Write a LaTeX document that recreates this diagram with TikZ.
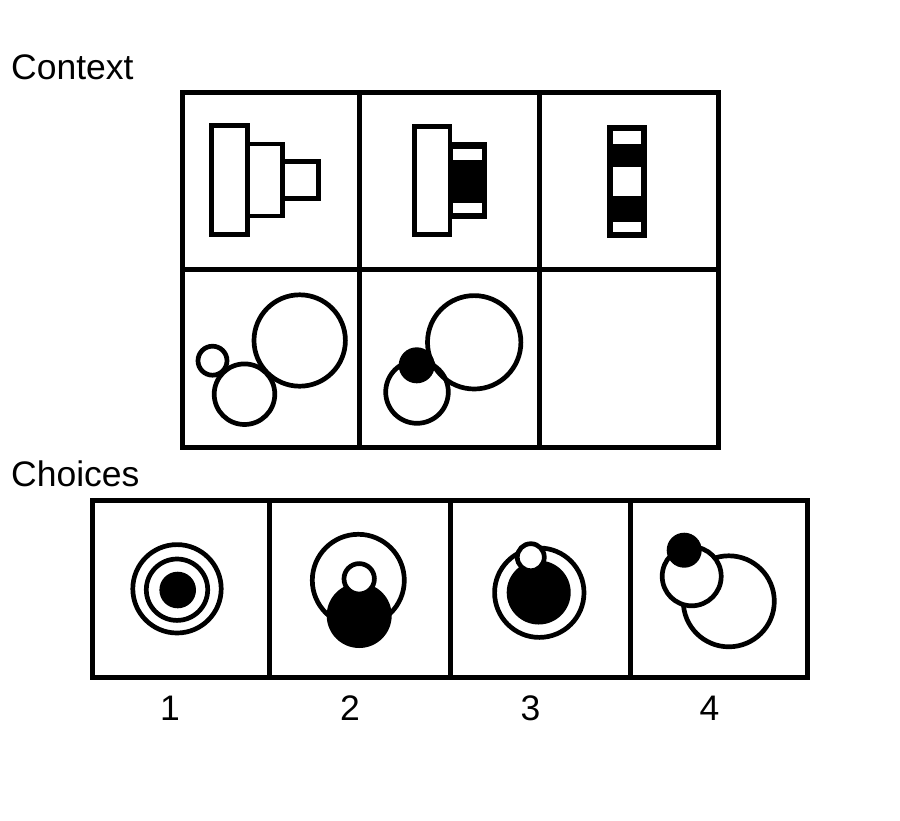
\documentclass[tikz,border=0pt]{standalone}
\usepackage{fontspec}
\setmainfont{Liberation Sans}
\begin{document}
\begin{tikzpicture}[x=1pt,y=-1pt]
\tikzset{
  shp/.style={line width=4.7pt, line join=miter},
  gridline/.style={line width=5pt, line join=miter},
  lbl/.style={font=\fontsize{35.5}{40}\selectfont, inner sep=0pt},
  dotfill/.style={fill=black},
  holed/.style={line width=4.7pt, draw=black, fill=white}
}
\useasboundingbox (0,0) rectangle (900,820);
\fill[white] (0,0) rectangle (900,820);

% labels
\node[lbl, anchor=base west] (ctx) at (11,79) {Context};
\node[lbl, anchor=base west] (chc) at (11,486) {Choices};
\node[lbl, anchor=base] (n1) at (170,720) {1};
\node[lbl, anchor=base] (n2) at (350,720) {2};
\node[lbl, anchor=base] (n3) at (530.5,720) {3};
\node[lbl, anchor=base] (n4) at (709.5,720) {4};

% context grid
\draw[gridline] (182.5,92.5) rectangle (718,447.5);
\draw[gridline] (359.5,92.5) -- (359.5,447.5);
\draw[gridline] (539,92.5) -- (539,447.5);
\draw[gridline] (182.5,269.5) -- (718,269.5);

% choices grid
\draw[gridline] (92.5,500.5) rectangle (807.5,677.3);
\draw[gridline] (269.8,500.5) -- (269.8,677.3);
\draw[gridline] (450,500.5) -- (450,677.3);
\draw[gridline] (630.2,500.5) -- (630.2,677.3);

% top row, cell 1
\draw[shp] (211.2,125.8) rectangle (247.5,234.5);
\draw[shp] (247.5,144) rectangle (282.5,216);
\draw[shp] (282.5,161.5) rectangle (318.5,198.5);

% top row, cell 2
\draw[shp] (414.2,126.8) rectangle (450,234.5);
\fill[black] (450,142.3) rectangle (487.3,219.3);
\fill[white] (453.3,149) rectangle (482.3,160);
\fill[white] (453.3,202.7) rectangle (482.3,213.3);

% top row, cell 3
\fill[black] (606.7,125) rectangle (646.7,237.7);
\fill[white] (612.7,130.7) rectangle (641,144);
\fill[white] (612.7,166.7) rectangle (641,196);
\fill[white] (612.7,221.7) rectangle (641,232.3);

% bottom row, cell 1
\draw[shp] (212.5,360.7) circle[radius=14.5pt];
\draw[shp] (244.5,394.2) circle[radius=30.3pt];
\draw[shp] (299.7,340.5) circle[radius=45.7pt];

% bottom row, cell 2
\draw[shp] (417,392) circle[radius=31.3pt];
\draw[shp] (474.2,342.3) circle[radius=46.7pt];
\fill[dotfill] (416.7,365.3) circle[radius=18pt];

% choice 1
\draw[shp] (177,588.8) circle[radius=44.2pt];
\draw[shp] (177,589.7) circle[radius=30.7pt];
\fill[dotfill] (177.7,590) circle[radius=18.3pt];

% choice 2
\draw[shp] (358.3,580.3) circle[radius=46pt];
\fill[dotfill] (359.2,615.5) circle[radius=32.5pt];
\path[holed] (359.2,578.8) circle[radius=15.2pt];

% choice 3
\draw[shp] (539.3,592.7) circle[radius=44.7pt];
\fill[dotfill] (538.7,592.5) circle[radius=32pt];
\path[holed] (530.8,557.2) circle[radius=13.5pt];

% choice 4
\draw[shp] (728.8,601.3) circle[radius=45.5pt];
\path[holed] (691.7,576.3) circle[radius=29.5pt];
\fill[dotfill] (684.2,550.2) circle[radius=17.5pt];
\end{tikzpicture}
\end{document}
